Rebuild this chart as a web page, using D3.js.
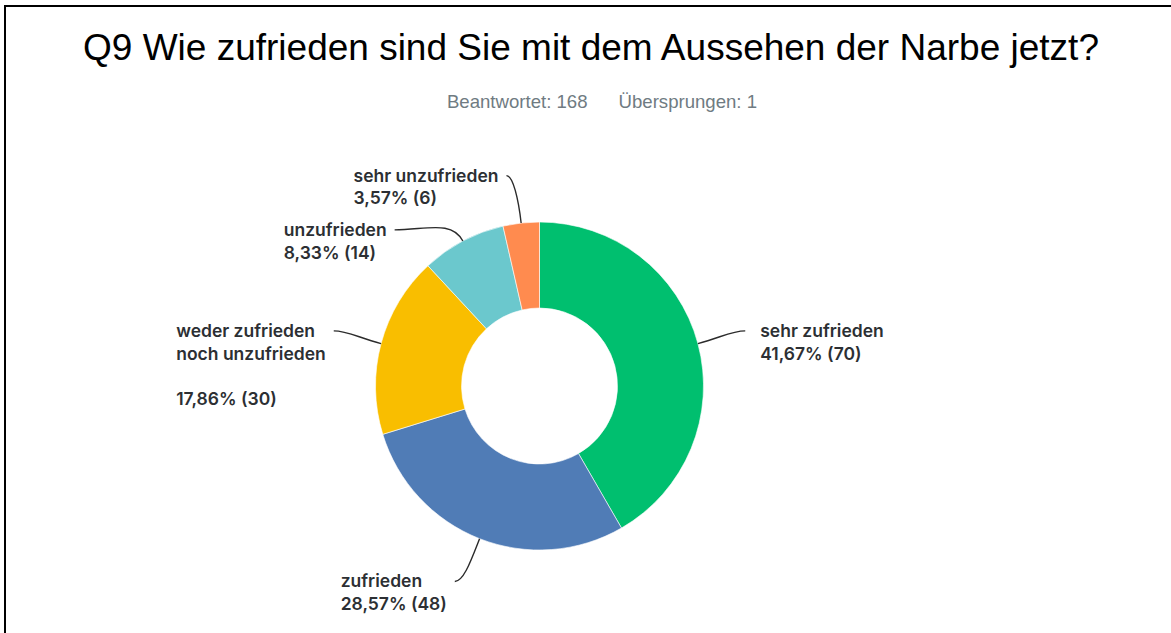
<!DOCTYPE html>
<html lang="de">
<head>
<meta charset="utf-8">
<script src="https://cdn.jsdelivr.net/npm/d3@7"></script>
<style>
  html, body { margin: 0; padding: 0; background: #fff; }
  svg { display: block; }
</style>
</head>
<body>
<svg id="chart" width="1171" height="633"></svg>
<script>
// Survey question and response counts
const questionTitle = "Q9 Wie zufrieden sind Sie mit dem Aussehen der Narbe jetzt?";
const answeredCount = 168;
const skippedCount = 1;

const categories = ["sehr zufrieden", "zufrieden", "weder zufrieden noch unzufrieden", "unzufrieden", "sehr unzufrieden"];
const categoryLines = [["sehr zufrieden"], ["zufrieden"], ["weder zufrieden", "noch unzufrieden", ""], ["unzufrieden"], ["sehr unzufrieden"]];
const counts = [70, 48, 30, 14, 6];
const colors = ["#00bf6f", "#507cb6", "#f9be00", "#6bc8cd", "#ff8b4f"];

// Layout: nudges (degrees) applied to each label's anchor angle to keep labels apart
const labelAngleShift = [0, 2, 0, -15, -2.5];

const W = 1171, H = 633;
const cx = 539.5, cy = 386;
const outerR = 164, innerR = 78, labelR = 213;

const svg = d3.select("#chart");

// frame lines (top and left)
svg.append("line").attr("x1", 5).attr("y1", 6).attr("x2", W).attr("y2", 6)
  .attr("stroke", "#000").attr("stroke-width", 2);
svg.append("line").attr("x1", 5).attr("y1", 5).attr("x2", 5).attr("y2", H)
  .attr("stroke", "#000").attr("stroke-width", 2);

// title
svg.append("text")
  .attr("x", 591).attr("y", 60)
  .attr("text-anchor", "middle")
  .style("font-family", "'Liberation Sans', Arial, sans-serif")
  .style("font-size", "37px")
  .style("fill", "#000")
  .text(questionTitle);

// answered / skipped summary
const sub = svg.append("text")
  .attr("x", 602).attr("y", 108)
  .attr("text-anchor", "middle")
  .style("font-family", "'Liberation Sans', Arial, sans-serif")
  .style("font-size", "18.6px")
  .style("fill", "#6f7b82");
sub.append("tspan").text(`Beantwortet: ${answeredCount}`);
sub.append("tspan").attr("dx", 31).text(`Übersprungen: ${skippedCount}`);

const total = d3.sum(counts);
const data = categories.map((c, i) => ({
  category: c, lines: categoryLines[i], count: counts[i], color: colors[i], shift: labelAngleShift[i]
}));

const pie = d3.pie().value(d => d.count).sort(null);
const arcs = pie(data);
const arc = d3.arc().innerRadius(innerR).outerRadius(outerR);

const g = svg.append("g").attr("transform", `translate(${cx},${cy})`);

g.selectAll("path.slice")
  .data(arcs)
  .join("path")
  .attr("class", "slice")
  .attr("d", arc)
  .attr("fill", d => d.data.color)
  .attr("stroke", "#fff")
  .attr("stroke-width", 0.6);

const fmtPct = v => (v * 100).toFixed(2).replace(".", ",") + "%";
const labelFont = "Inter, 'Noto Sans', sans-serif";
const lineH = 22.7;

arcs.forEach(a => {
  const mid = (a.startAngle + a.endAngle) / 2;
  const la = mid + a.data.shift * Math.PI / 180;
  const sx = outerR * Math.sin(mid), sy = -outerR * Math.cos(mid);
  const ex = labelR * Math.sin(la), ey = -labelR * Math.cos(la);
  const right = ex > 0;
  const hdir = right ? -1 : 1;
  const k1 = Math.min(Math.hypot(ex - sx, ey - sy) * 0.5, 24);
  const c1x = sx + Math.sin(mid) * k1, c1y = sy - Math.cos(mid) * k1;
  const c2x = ex + hdir * Math.abs(ex - c1x) * 0.55, c2y = ey;

  const p = d3.path();
  p.moveTo(sx, sy);
  p.bezierCurveTo(c1x, c1y, c2x, c2y, ex, ey);
  g.append("path").attr("d", p.toString())
    .attr("fill", "none").attr("stroke", "#2b2b2b").attr("stroke-width", 1.4);

  const lines = a.data.lines.concat([`${fmtPct(a.data.count / total)} (${a.data.count})`]);
  const t = g.append("text")
    .style("font-family", labelFont)
    .style("font-size", "17.5px")
    .style("font-weight", 600)
    .style("fill", "#2c2f33");
  lines.forEach((ln, i) => {
    t.append("tspan").attr("x", 0).attr("y", i * lineH).text(ln === "" ? "\u00a0" : ln);
  });
  const w = d3.max(t.selectAll("tspan").nodes(), n => n.getComputedTextLength());
  const tx = right ? ex + 15 : ex - 8 - w;
  t.attr("transform", `translate(${tx},${ey + 6})`);
});
</script>
</body>
</html>
